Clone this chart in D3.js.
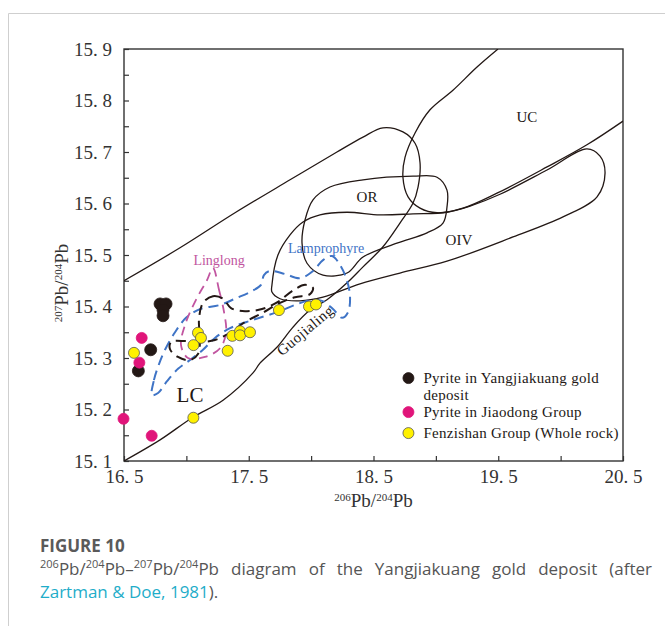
<!DOCTYPE html>
<html>
<head>
<meta charset="utf-8">
<script src="https://cdn.jsdelivr.net/npm/d3@7"></script>
<style>
  body { margin: 0; background: #fff; }
  svg { display: block; }
</style>
</head>
<body>
<div id="chart"></div>
<script>
// tick values
const xTickVals = [16.5, 17, 17.5, 18, 18.5, 19, 19.5, 20, 20.5];
const yTickVals = [15.1, 15.15, 15.2, 15.25, 15.3, 15.35, 15.4, 15.45, 15.5, 15.55, 15.6, 15.65, 15.7, 15.75, 15.8, 15.85, 15.9];

// sample points [206Pb/204Pb, 207Pb/204Pb]
const yangjiakuang = [[16.789, 15.405], [16.837, 15.405], [16.813, 15.393], [16.813, 15.382], [16.714, 15.316], [16.615, 15.275]];
const jiaodong = [[16.642, 15.339], [16.623, 15.291], [16.496, 15.182], [16.722, 15.149]];
const fenzishan = [[16.580, 15.310], [17.093, 15.349], [17.117, 15.339], [17.057, 15.325], [17.331, 15.314], [17.368, 15.343],
  [17.430, 15.352], [17.430, 15.344], [17.510, 15.350], [17.742, 15.393], [17.983, 15.400], [18.039, 15.404], [17.056, 15.184]];

// reference curves (Zartman & Doe)
const lcCurve = [[16.5, 15.450], [16.949, 15.514], [17.390, 15.582], [17.831, 15.646], [18.207, 15.700], [18.416, 15.729],
  [18.576, 15.747], [18.736, 15.739], [18.833, 15.717], [18.873, 15.679], [18.857, 15.632], [18.817, 15.601], [18.712, 15.562],
  [18.576, 15.516], [18.416, 15.477], [18.288, 15.446], [18.127, 15.413], [17.991, 15.393], [17.855, 15.360], [17.726, 15.321],
  [17.590, 15.290], [17.534, 15.271], [17.294, 15.218], [17.053, 15.185], [16.789, 15.141], [16.5, 15.1]];
const ucCurve = [[19.498, 15.9], [19.330, 15.865], [19.137, 15.820], [18.953, 15.782], [18.833, 15.737], [18.753, 15.690],
  [18.736, 15.651], [18.777, 15.613], [18.873, 15.591], [19.009, 15.582], [19.217, 15.591], [19.490, 15.620], [19.891, 15.671],
  [20.211, 15.714], [20.5, 15.760]];
const orLoop = [[18.151, 15.632], [18.416, 15.646], [18.817, 15.653], [19.009, 15.651], [19.089, 15.626], [19.089, 15.593],
  [19.057, 15.562], [18.929, 15.543], [18.688, 15.523], [18.416, 15.496], [18.288, 15.465], [18.095, 15.461], [17.967, 15.484],
  [17.927, 15.523], [17.951, 15.568], [18.015, 15.607]];
const oivLoop = [[17.686, 15.442], [17.734, 15.500], [17.831, 15.539], [17.935, 15.564], [18.071, 15.578], [18.288, 15.583],
  [18.552, 15.578], [18.817, 15.580], [19.089, 15.583], [19.274, 15.595], [19.514, 15.618], [19.891, 15.665], [20.211, 15.706],
  [20.316, 15.692], [20.356, 15.659], [20.292, 15.613], [20.019, 15.574], [19.618, 15.535], [19.089, 15.488], [18.712, 15.465],
  [18.392, 15.444], [18.095, 15.418], [17.911, 15.411], [17.751, 15.415], [17.686, 15.428]];

// dashed fields
const linglongField = [[17.213, 15.475], [17.262, 15.432], [17.302, 15.389], [17.318, 15.350], [17.270, 15.319], [17.149, 15.302],
  [17.013, 15.300], [16.957, 15.325], [16.989, 15.364], [17.077, 15.413], [17.165, 15.451]];
const depositField = [[17.133, 15.407], [17.213, 15.420], [17.294, 15.415], [17.358, 15.397], [17.470, 15.391], [17.606, 15.395],
  [17.734, 15.409], [17.847, 15.430], [17.951, 15.442], [18.015, 15.436], [17.991, 15.424], [17.871, 15.418], [17.751, 15.407],
  [17.606, 15.387], [17.470, 15.370], [17.350, 15.349], [17.229, 15.335], [17.093, 15.331], [16.989, 15.333], [16.877, 15.331],
  [16.869, 15.317], [16.933, 15.302], [17.029, 15.296], [17.093, 15.308], [17.109, 15.335], [17.101, 15.374]];
const lamprophyreField = [[16.724, 15.228], [16.740, 15.257], [16.773, 15.283], [16.829, 15.316], [16.909, 15.350], [16.997, 15.378],
  [17.109, 15.395], [17.270, 15.403], [17.398, 15.416], [17.526, 15.430], [17.598, 15.442], [17.622, 15.461], [17.670, 15.469],
  [17.791, 15.463], [17.911, 15.455], [18.015, 15.469], [18.095, 15.490], [18.167, 15.498], [18.231, 15.481], [18.288, 15.450],
  [18.312, 15.418], [18.296, 15.389], [18.248, 15.378], [18.175, 15.395], [18.087, 15.411], [17.975, 15.411], [17.871, 15.403],
  [17.726, 15.389], [17.534, 15.374], [17.350, 15.358], [17.229, 15.339], [17.133, 15.316], [17.029, 15.296], [16.933, 15.279],
  [16.845, 15.255], [16.773, 15.232]];

const legendItems = ["Pyrite in Yangjiakuang gold|deposit", "Pyrite in Jiaodong Group", "Fenzishan Group (Whole rock)"];
const pointColors = ["#231815", "#e0157a", "#fff100"];

const W = 665, H = 626;
const margin = { top: 49, right: 42, bottom: 165, left: 124 };
const width = W - margin.left - margin.right;
const height = H - margin.top - margin.bottom;
const serif = "'Liberation Serif', 'Times New Roman', serif";

const svgRoot = d3.select("#chart").append("svg")
  .attr("width", W)
  .attr("height", H);

// card border
svgRoot.append("path")
  .attr("d", `M8.5,${H}V13.5H${W}`)
  .attr("fill", "none")
  .attr("stroke", "#cfcfcf")
  .attr("stroke-width", 1);

const svg = svgRoot.append("g")
  .attr("transform", `translate(${margin.left},${margin.top})`);

const x = d3.scaleLinear().domain([16.5, 20.5]).range([0, width]);
const y = d3.scaleLinear().domain([15.1, 15.9]).range([height, 0]);

svg.append("clipPath").attr("id", "plotClip")
  .append("rect").attr("width", width).attr("height", height);

const fmt = d => d.toFixed(1).replace(".", ". ");

//x axis, ticks inside
const xAxis = svg.append("g")
  .attr("transform", `translate(0,${height})`)
  .call(d3.axisBottom(x).tickValues(xTickVals).tickSizeInner(-5).tickSizeOuter(0).tickPadding(9)
    .tickFormat(d => Math.abs((d - 16.5) % 1) < 1e-6 ? fmt(d) : ""));

//y axis, ticks inside
const yAxis = svg.append("g")
  .call(d3.axisLeft(y).tickValues(yTickVals).tickSizeInner(-5).tickSizeOuter(0).tickPadding(12)
    .tickFormat(d => Math.round(d * 100) % 10 === 0 ? fmt(d) : ""));

[xAxis, yAxis].forEach(a => {
  a.select(".domain").remove();
  a.selectAll("line").attr("stroke", "#333").attr("stroke-width", 1.2);
  a.selectAll("text").attr("fill", "#333").style("font-family", serif).style("font-size", "19px");
});

svg.append("rect")
  .attr("width", width)
  .attr("height", height)
  .attr("fill", "none")
  .attr("stroke", "#333")
  .attr("stroke-width", 1.4);

// axis titles with superscripts
function isoTitle(sel, a, b) {
  sel.append("tspan").attr("baseline-shift", "super").style("font-size", "11px").text(a);
  sel.append("tspan").text("Pb/");
  sel.append("tspan").attr("baseline-shift", "super").style("font-size", "11px").text(b);
  sel.append("tspan").text("Pb");
}

svg.append("text")
  .attr("x", width / 2)
  .attr("y", height + 46)
  .attr("text-anchor", "middle")
  .attr("fill", "#333")
  .style("font-family", serif)
  .style("font-size", "19px")
  .call(isoTitle, "206", "204");

svg.append("text")
  .attr("transform", "rotate(-90)")
  .attr("x", -height / 2 - 28)
  .attr("y", -56)
  .attr("text-anchor", "middle")
  .attr("fill", "#333")
  .style("font-family", serif)
  .style("font-size", "19px")
  .call(isoTitle, "207", "204");

const plot = svg.append("g").attr("clip-path", "url(#plotClip)");

const openLine = d3.line().x(d => x(d[0])).y(d => y(d[1])).curve(d3.curveCatmullRom.alpha(0.5));
const closedLine = d3.line().x(d => x(d[0])).y(d => y(d[1])).curve(d3.curveCatmullRomClosed.alpha(0.5));

// solid reference curves
[[lcCurve, openLine], [ucCurve, openLine], [orLoop, closedLine], [oivLoop, closedLine]].forEach(([data, gen]) => {
  plot.append("path")
    .attr("d", gen(data))
    .attr("fill", "none")
    .attr("stroke", "#231815")
    .attr("stroke-width", 1.3);
});

// dashed fields
plot.append("path")
  .attr("d", closedLine(lamprophyreField))
  .attr("fill", "none")
  .attr("stroke", "#3f74c6")
  .attr("stroke-width", 2)
  .attr("stroke-dasharray", "10,6");

plot.append("path")
  .attr("d", closedLine(linglongField))
  .attr("fill", "none")
  .attr("stroke", "#c155a0")
  .attr("stroke-width", 1.8)
  .attr("stroke-dasharray", "9,6");

plot.append("path")
  .attr("d", closedLine(depositField))
  .attr("fill", "none")
  .attr("stroke", "#231815")
  .attr("stroke-width", 2)
  .attr("stroke-dasharray", "10,6");

// field labels
const labels = [
  { t: "UC", x: 19.73, y: 15.768, c: "#231815", s: 15 },
  { t: "OR", x: 18.448, y: 15.613, c: "#231815", s: 15 },
  { t: "OIV", x: 19.185, y: 15.529, c: "#231815", s: 15 },
  { t: "LC", x: 17.029, y: 15.228, c: "#231815", s: 21 },
  { t: "Linglong", x: 17.262, y: 15.49, c: "#c155a0", s: 14 },
  { t: "Lamprophyre", x: 18.12, y: 15.514, c: "#3f74c6", s: 14 }
];
svg.selectAll(".flabel")
  .data(labels)
  .enter()
  .append("text")
  .attr("x", d => x(d.x))
  .attr("y", d => y(d.y))
  .attr("dy", "0.35em")
  .attr("text-anchor", "middle")
  .attr("fill", d => d.c)
  .style("font-family", serif)
  .style("font-size", d => d.s + "px")
  .text(d => d.t);

svg.append("text")
  .attr("transform", `translate(${x(17.951)},${y(15.354)}) rotate(-40)`)
  .attr("dy", "0.35em")
  .attr("text-anchor", "middle")
  .attr("fill", "#231815")
  .style("font-family", serif)
  .style("font-size", "15px")
  .style("letter-spacing", "0.5px")
  .text("Guojialing");

// sample points
[yangjiakuang, jiaodong, fenzishan].forEach((pts, i) => {
  svg.selectAll(".pt" + i)
    .data(pts)
    .enter()
    .append("circle")
    .attr("cx", d => x(d[0]))
    .attr("cy", d => y(d[1]))
    .attr("r", i === 0 ? 6 : 5.5)
    .attr("fill", pointColors[i])
    .attr("stroke", i === 2 ? "#555" : pointColors[i])
    .attr("stroke-width", 0.8);
});

// legend
const legend = svg.append("g").attr("transform", `translate(${x(18.78)},${y(15.261)})`);
const legendY = [0, 34, 55];
legendItems.forEach((item, i) => {
  const g = legend.append("g").attr("transform", `translate(0,${legendY[i]})`);
  g.append("circle")
    .attr("r", 5.5)
    .attr("fill", pointColors[i])
    .attr("stroke", i === 2 ? "#555" : pointColors[i])
    .attr("stroke-width", 0.8);
  item.split("|").forEach((line, j) => {
    g.append("text")
      .attr("x", 15)
      .attr("y", j * 17)
      .attr("dy", "0.35em")
      .attr("fill", "#231815")
      .style("font-family", serif)
      .style("font-size", "15px")
      .style("letter-spacing", "0.3px")
      .text(line);
  });
});

// caption
const cap = svgRoot.append("g").style("font-family", "'Open Sans', sans-serif").attr("fill", "#555");
cap.append("text")
  .attr("x", 40).attr("y", 552)
  .style("font-size", "17px")
  .style("font-weight", "bold")
  .attr("fill", "#5a5a5a")
  .text("FIGURE 10");

const line2 = cap.append("text").attr("x", 40).attr("y", 575).style("font-size", "17px");
[["206", true], ["Pb/", false], ["204", true], ["Pb–", false], ["207", true], ["Pb/", false], ["204", true],
 ["Pb diagram of the Yangjiakuang gold deposit (after", false]].forEach(([t, sup]) => {
  const ts = line2.append("tspan").text(t);
  if (sup) ts.attr("baseline-shift", "super").style("font-size", "11px");
});
// justify the wrapped line to the column width
const lineLen = line2.node().getComputedTextLength();
const gaps = line2.text().split(" ").length - 1;
line2.style("word-spacing", `${Math.max(0, (612 - lineLen) / gaps)}px`);

const line3 = cap.append("text").attr("x", 40).attr("y", 598).style("font-size", "17px");
line3.append("tspan").attr("fill", "#1fadc9").text("Zartman & Doe, 1981");
line3.append("tspan").text(").");
</script>
</body>
</html>
